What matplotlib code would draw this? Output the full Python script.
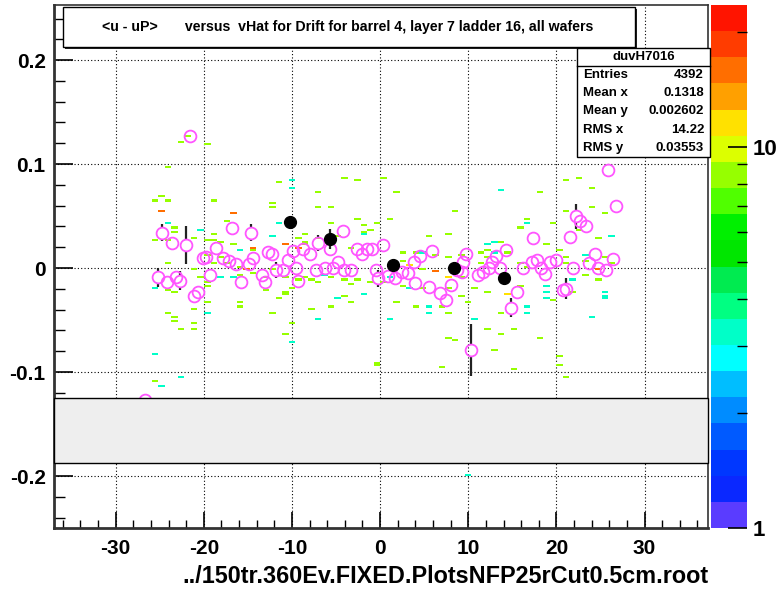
import numpy as np
import matplotlib
matplotlib.use('Agg')
import matplotlib.pyplot as plt
from matplotlib.colors import ListedColormap, LogNorm
from matplotlib.patches import Rectangle
from matplotlib.ticker import MultipleLocator, FixedLocator, NullFormatter

plt.rcParams['font.family'] = ['Liberation Sans Narrow', 'Liberation Sans', 'DejaVu Sans']
plt.rcParams['font.weight'] = 'bold'
plt.rcParams['axes.unicode_minus'] = False

# ---- 2D histogram cells (x, y), grouped by colour ----
green_x = [-24.8, -25.3, -23.9, -23.2, -23.2, -25.3, -24.4, -23.9, -24.2, -23.2, -24.2, -23.2,
           -23.2, -22.4, -20.8, -21.25, -25.2, -18.75, -21.25, -18.75, -19.3, -17.7, -16.5,
           -12.3, -12.3, -11.7, -4.2, -2.3, -7.3, -7.3, -5.2, -2.7, -0.2, -5.7, -1.9, -1.9,
           -0.8, -8.2, -8.3, -6.8, -4.5, -3.2, -19.5, -18.2, -14.8, -17.8, -16.7, -19.0, -17.4,
           -16.25, -14.3, -13.3, -12.2, -11.0, -10.2, -10.7, -9.4, -8.3, -7.6, -5.2, -4.2, -3.4,
           -2.3, -1.1, -19.3, -16.25, -21.1, -20.2, -19.7, -19.9, -20.8, -16.25, -16.25, -13.3,
           -11.7, -12.3, -10.6, -10.7, -10.2, -7.7, -6.8, -3.75, -3.2, -5.2, -0.3,
           -21.6, -22.4, -19.8, -23.75, -18.75, -16.6, -9.3, -8.2,
           0.2, 1.8, 18.3, 21.4, 22.8, 23.9, 8.2, 1.4, 5.8, 8.0, 16.7, 19.3, 15.7, 21.4, 23.9,
           25.3, 22.4, 24.9, 13.9, 18.5, 12.2, 11.4, 14.4, 2.8, 3.75, 2.6, 3.2, 6.5, 7.4, 9.3,
           11.6, 12.5, 15.9, 16.7, 20.1, 20.8, 21.4, 23.6, 25.3, 26.1, 23.5, 25.0, 4.5, 9.1, 0.3,
           2.3, 4.9, 8.0, 9.1, 10.8, 12.2, 15.7, 19.3, 21.6, 1.7, 3.75, 6.8, 7.7, 9.9, 13.9,
           15.3, 13.9, 18.2, 7.7, 8.3, 20.2, 20.45, 20.8, -0.2, 6.8, 15.3, 13.1, 11.9]
green_y = [0.068, 0.064, 0.065, 0.039, 0.0346, 0.028, 0.027, 0.0048, -0.021, -0.023, -0.043, -0.046,
           -0.051, -0.058, -0.058, -0.053, -0.108, 0.064, 0.029, 0.034, 0.027, 0.045, 0.053,
           0.063, 0.058, 0.083, 0.0865, 0.0846, 0.074, 0.058, 0.058, 0.047, 0.043, 0.043, 0.040, 0.0356,
           0.038, 0.034, 0.025, 0.030, 0.031, 0.020, 0.0125, 0.0106, 0.017, 0.026, 0.023, 0.0048, 0.0058,
           0.001, -0.005, -0.009, -0.002, -0.009, -0.018, -0.023, -0.0115, -0.009, -0.0115, -0.009, -0.0115, -0.014,
           -0.0115, -0.0135, -0.0135, -0.007, -0.002, -0.009, -0.017, -0.033, -0.040, -0.0336, -0.038, -0.021,
           -0.028, -0.042, -0.024, -0.0625, -0.053, -0.040, -0.0135, -0.027, -0.034, -0.0375, -0.092,
           0.126, 0.120, 0.119, 0.098, 0.027, 0.053, 0.029, 0.023,
           0.0875, 0.074, 0.073, 0.0846, 0.0875, 0.077, 0.054, 0.047, 0.031, 0.033, 0.047, 0.043, 0.039, 0.054, 0.059,
           0.053, 0.0365, 0.029, 0.026, 0.024, 0.017, 0.016, 0.015, 0.015, 0.015, 0.0067, 0.0029, 0.0125, 0.0106, 0.0125,
           0.0058, 0.0106, 0.0058, 0.001, 0.017, 0.0048, 0.0106, 0.0077, 0.0106, 0.0048, -0.0077, -0.0115, -0.002, -0.009, -0.0135,
           -0.017, -0.018, -0.018, -0.026, -0.019, -0.023, -0.016, -0.031, -0.023, -0.033, -0.0365, -0.038, -0.042, -0.034, -0.043,
           -0.058, -0.0625, -0.067, -0.068, -0.069, -0.084, -0.093, -0.105, -0.093, -0.095, -0.097, -0.079, -0.058]
cyan_x = [-23.9, -25.3, -25.3, -24.8, -22.7, -20.2, -16.25, -17.8, -16.8, -19.3, -10.2, -10.2,
          -11.25, -12.3, -6.25, -1.9, -4.9, -10.2, -7.3, -1.8, 13.9, 16.4, 26.4, 12.8, 11.9, 13.3,
          4.5, 3.4, 23.1, 1.1, 3.4, 5.3, 5.3, 10.8, 16.8, 16.8, 18.5, 18.5, 18.75, 21.9, 25.3,
          25.3, 25.3, 24.4, 0.8, 10.2]
cyan_y = [0.043, -0.018, -0.082, -0.1125, -0.105, 0.038, 0.017, -0.010, -0.010, -0.042, 0.0846, 0.078,
          0.043, 0.032, -0.007, -0.024, -0.029, -0.072, -0.048, 0.033, 0.076, 0.043, 0.032, 0.026, 0.023, 0.015,
          0.016, 0.0038, 0.014, -0.009, -0.019, -0.0375, -0.042, -0.048, -0.038, -0.042, -0.016, -0.023, -0.029, -0.0115, -0.023,
          -0.026, -0.028, -0.047, -0.049, -0.200]
orange_x = [-24.8, -10.6, -9.3, -15.1, -14.2, 6.5, 24.7]
orange_y = [0.055, 0.024, 0.019, -0.002, 0.020, -0.004, -0.002]
yellow_x = [7.4, 14.4]
yellow_y = [-0.010, -0.024]
green_n, cyan_n, orange_n, yellow_n = 8.4, 3.5, 16.0, 11.6

# ---- profile points (open magenta) ----
prof_x = [-21.6, -26.7, -24.7, -23.6, -22.0, -25.2, -24.2, -23.2, -22.7, -21.1, -20.7, -20.1, -19.7,
          -18.6, -19.3, -17.8, -16.8, -17.2, -16.4, -15.8, -14.9, -14.7, -14.4, -13.4, -13.1, -12.7,
          -12.3, -11.8, -11.0, -10.5, -9.9, -9.3, -9.5, -8.8, -8.0, -7.0, -7.3, -6.3, -5.7, -5.3, -4.8,
          -4.2, -4.1, -3.3, -2.6, -2.0, -1.5, -0.9, -0.5, 0.3, -0.2, 0.9, 1.7, 2.5, 3.2, 4.0, 3.8, 4.5,
          5.5, 5.9, 6.8, 7.5, 8.0, 8.75, 9.3, 9.4, 9.8, 10.3, 11.1, 11.7, 12.3, 12.7, 13.2, 13.6, 14.3,
          14.8, 15.5, 16.25, 17.2, 17.3, 17.8, 18.2, 18.75, 19.3, 19.9, 20.7, 21.1, 21.5, 22.2, 22.7,
          23.4, 21.9, 23.75, 24.4, 24.7, 25.6, 25.9, 26.4, 26.8]
prof_y = [0.127, -0.127, 0.034, 0.024, 0.022, -0.009, -0.013, -0.009, -0.012, -0.027, -0.023, 0.010, 0.011,
          0.019, -0.007, 0.010, 0.039, 0.007, 0.004, -0.013, 0.004, 0.034, 0.010, -0.007, -0.013, 0.015,
          0.014, -0.002, -0.002, 0.008, 0.016, -0.012, 0.0, 0.018, 0.014, 0.024, -0.002, 0.0, 0.018, 0.0, 0.006,
          0.036, -0.002, -0.002, 0.018, 0.014, 0.018, 0.018, -0.002, 0.022, -0.010, -0.008, -0.010, -0.004, -0.005, -0.014, 0.006, 0.012,
          -0.018, 0.016, -0.024, -0.031, -0.016, -0.002, -0.004, 0.006, 0.014, -0.079, -0.007, -0.004, 0.0, 0.006, 0.012, 0.0, 0.017,
          -0.038, -0.023, 0.0, 0.006, 0.029, 0.008, 0.0, -0.006, 0.006, 0.008, -0.021, -0.020, 0.030, 0.050, 0.045,
          0.040, 0.0, 0.005, 0.014, 0.0, -0.002, 0.094, 0.009, 0.060]
prof_err = [0.0, 0.0, 0.008, 0.004, 0.018, 0.009, 0.004, 0.004, 0.009, 0.006, 0.004, 0.004, 0.004,
            0.004, 0.004, 0.004, 0.004, 0.004, 0.004, 0.004, 0.004, 0.008, 0.004, 0.004, 0.004, 0.004,
            0.004, 0.008, 0.004, 0.004, 0.004, 0.004, 0.004, 0.004, 0.004, 0.008, 0.004, 0.004, 0.004, 0.004, 0.004,
            0.004, 0.004, 0.004, 0.004, 0.004, 0.004, 0.004, 0.004, 0.004, 0.008, 0.004, 0.004, 0.004, 0.004, 0.004, 0.004, 0.004,
            0.004, 0.004, 0.004, 0.004, 0.004, 0.004, 0.004, 0.004, 0.004, 0.025, 0.004, 0.004, 0.004, 0.004, 0.004, 0.004, 0.004,
            0.009, 0.004, 0.004, 0.004, 0.004, 0.004, 0.004, 0.004, 0.004, 0.004, 0.004, 0.010, 0.006, 0.012, 0.004,
            0.004, 0.004, 0.004, 0.004, 0.004, 0.004, 0.004, 0.004, 0.004]

# ---- filled black points ----
mean_x = [-10.2, -5.7, 1.5, 8.4, 14.0]
mean_y = [0.044, 0.028, 0.003, 0.0, -0.010]
mean_err = [0.004, 0.010, 0.004, 0.004, 0.004]

stat_names = ['Entries', 'Mean x', 'Mean y', 'RMS x', 'RMS y']
stat_vals = ['4392', '0.1318', '0.002602', '14.22', '0.03553']

palette = ['#5a3cff', '#0a28ff', '#0037ff', '#005aff', '#008cff', '#00beff', '#00ffff', '#00ffc8',
           '#00ff82', '#00eb50', '#00e600', '#00f000', '#50ff00', '#96ff00', '#dcff00', '#ffe100',
           '#ffa000', '#ff6e00', '#ff3c00', '#ff1400']

# figure
fig = plt.figure(figsize=(7.84, 5.94), dpi=100)
ax = fig.add_axes([54/784, 66/594, 654/784, 523/594])

xedges = np.linspace(-37, 37, 101)
yedges = np.linspace(-0.25, 0.25, 251)
cx = np.concatenate([green_x, cyan_x, orange_x, yellow_x])
cy = np.concatenate([green_y, cyan_y, orange_y, yellow_y])
cn = np.concatenate([np.full(len(green_x), green_n), np.full(len(cyan_x), cyan_n),
                     np.full(len(orange_x), orange_n), np.full(len(yellow_x), yellow_n)])
H, _, _ = np.histogram2d(cx, cy, bins=[xedges, yedges], weights=cn)
H = np.ma.masked_where(H <= 0, H)
norm = LogNorm(vmin=1, vmax=23.6)
mesh = ax.pcolormesh(xedges, yedges, H.T, cmap=ListedColormap(palette), norm=norm, zorder=2)

ax.set_xlim(-37, 37.2)
ax.set_ylim(-0.25, 0.253)
ax.xaxis.set_major_locator(MultipleLocator(10))
ax.xaxis.set_minor_locator(MultipleLocator(2))
ax.yaxis.set_major_locator(MultipleLocator(0.1))
ax.yaxis.set_minor_locator(MultipleLocator(0.02))
ax.tick_params(axis='x', which='major', direction='in', length=11.5, width=1.2, labelsize=15, pad=8)
ax.tick_params(axis='x', which='minor', direction='in', length=6, width=1.0)
ax.tick_params(axis='y', which='major', direction='in', length=14, width=1.2, labelsize=15, pad=6)
ax.tick_params(axis='y', which='minor', direction='in', length=8, width=1.0)
ax.yaxis.set_major_formatter(plt.FuncFormatter(lambda v, p: '0' if abs(v) < 1e-9 else '%g' % v))
ax.grid(True, which='major', color='black', linestyle=(0, (1, 2)), linewidth=0.8, zorder=1)
ax.set_axisbelow(True)
for s in ax.spines.values():
    s.set_linewidth(1.2)
    s.set_color('#333333')
ax.spines['left'].set_linewidth(2)
ax.spines['bottom'].set_linewidth(2)

# error bars of open circles, drawn outside the marker only
r = 0.0058
px = np.array(prof_x); py = np.array(prof_y); pe = np.array(prof_err)
big = pe > r
ax.vlines(px[big], py[big] + r, py[big] + pe[big], color='#222222', lw=1.6, zorder=3)
ax.vlines(px[big], py[big] - pe[big], py[big] - r, color='#222222', lw=1.6, zorder=3)
ax.plot(prof_x, prof_y, 'o', ms=8.5, mfc='none', mec='#ff55ff', mew=1.3, ls='none', zorder=4)
ax.errorbar(mean_x, mean_y, yerr=mean_err, fmt='o', ms=8.5, color='black', ecolor='#222222',
            elinewidth=1.6, capsize=0, zorder=5)

# grey pave covering the lower band
ax.add_patch(Rectangle((0, 0.1243), 1, 0.1243, transform=ax.transAxes, facecolor='#eeeeee',
                       edgecolor='black', lw=1.0, zorder=6, clip_on=False))

# title box with shadow
fig.patches.append(Rectangle((65/784, 1 - 49/594), 572/784, 40/594, transform=fig.transFigure,
                             facecolor='#222222', edgecolor='none', zorder=7))
fig.patches.append(Rectangle((63/784, 1 - 47/594), 572/784, 40/594, transform=fig.transFigure,
                             facecolor='white', edgecolor='black', lw=1.0, zorder=8))
fig.text(348/784, 1 - 27/594, '<u - uP>       versus  vHat for Drift for barrel 4, layer 7 ladder 16, all wafers',
         ha='center', va='center', fontsize=10.2, zorder=9)

# stats box
sx0, sx1, sy0, sy1 = 577/784, 710/784, 1 - 157/594, 1 - 48/594
fig.patches.append(Rectangle((sx0, sy0), sx1 - sx0, sy1 - sy0, transform=fig.transFigure,
                             facecolor='white', edgecolor='black', lw=1.0, zorder=8))
fig.add_artist(plt.Line2D([sx0, sx1], [1 - 66/594] * 2, transform=fig.transFigure, color='black', lw=1.0, zorder=9))
fig.text((sx0 + sx1) / 2, 1 - 57/594, 'duvH7016', ha='center', va='center', fontsize=9.5, zorder=9)
for i, (nm, vl) in enumerate(zip(stat_names, stat_vals)):
    yy = 1 - (75 + 18.2 * i) / 594
    fig.text(583/784, yy, nm, ha='left', va='center', fontsize=9.5, zorder=9)
    fig.text(704/784, yy, vl, ha='right', va='center', fontsize=9.5, zorder=9)

# colour scale
cax = fig.add_axes([711/784, 66/594, 36/784, 523/594])
cb = fig.colorbar(mesh, cax=cax)
cb.outline.set_visible(False)
cax.yaxis.set_major_locator(FixedLocator([1, 10]))
cax.yaxis.set_minor_locator(FixedLocator([2, 3, 4, 5, 6, 7, 8, 9, 20]))
cax.yaxis.set_minor_formatter(NullFormatter())
cax.set_yticklabels(['1', '10'])
cax.tick_params(which='major', direction='in', length=14, width=1.2, labelsize=16, pad=4, color='black')
cax.tick_params(which='minor', direction='in', length=7, width=1.0, color='black')

fig.text(708/784, 6/594, '../150tr.360Ev.FIXED.PlotsNFP25rCut0.5cm.root', ha='right', va='bottom', fontsize=16.8)

fig.savefig('out.png', dpi=100)
